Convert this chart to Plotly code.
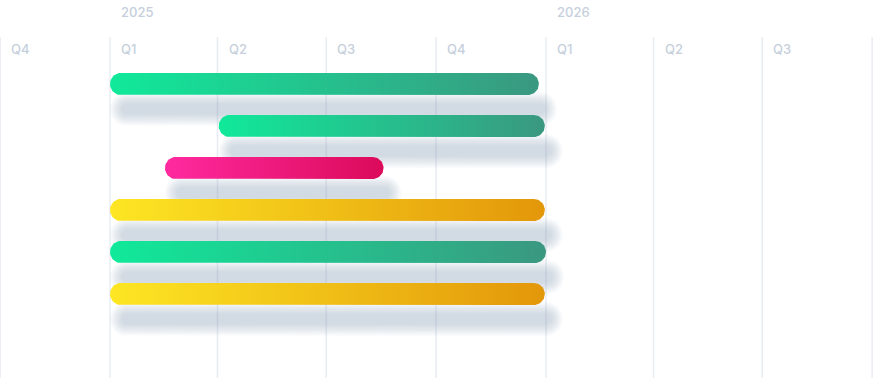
import math
from datetime import datetime, timedelta
import plotly.graph_objects as go

# ---------------- data ----------------
tasks = ["Task 1", "Task 2", "Task 3", "Task 4", "Task 5", "Task 6"]
starts = ["2025-01-01", "2025-04-02", "2025-02-16", "2025-01-01", "2025-01-01", "2025-01-01"]
ends = ["2025-12-26", "2025-12-31", "2025-08-18", "2025-12-31", "2026-01-01", "2025-12-31"]
groups = ["green", "green", "pink", "yellow", "green", "yellow"]

gradients = {
    "green": ("#10e99a", "#3a9880"),
    "pink": ("#ff2a9f", "#dc0a5a"),
    "yellow": ("#fde623", "#e3970a"),
}

quarter_starts = ["2024-10-01", "2025-01-01", "2025-04-01", "2025-07-01",
                  "2025-10-01", "2026-01-01", "2026-04-01", "2026-07-01", "2026-10-01"]
quarter_labels = ["Q4", "Q1", "Q2", "Q3", "Q4", "Q1", "Q2", "Q3"]
year_labels = ["2025", "2026"]
year_starts = ["2025-01-01", "2026-01-01"]

# ---------------- layout constants ----------------
W, H = 874, 378
X_START = datetime(2024, 9, 30, 22)
X_END = datetime(2026, 10, 2, 14)
ROW_PX = 42.0
Y_RANGE = [7, -2]  # reversed: row 0 at 84px, rows 42px apart
MS_PER_PX = (X_END - X_START).total_seconds() * 1000 / W

TEXT_COLOR = "#c6cfdc"
GRID_COLOR = "#e8ecf2"


def d(s):
    return datetime.strptime(s, "%Y-%m-%d")


def px_dx(px):
    return timedelta(milliseconds=px * MS_PER_PX)


def pill(xs, xe, yc, half_px, n=24):
    """Rounded (pill) polygon between datetimes xs..xe, centered at row yc."""
    r = half_px
    lc = xs + px_dx(r)
    rc = xe - px_dx(r)
    xsd, ysd = [], []
    for i in range(n + 1):
        a = -math.pi / 2 + math.pi * i / n
        xsd.append(rc + px_dx(r * math.cos(a)))
        ysd.append(yc + r * math.sin(a) / ROW_PX)
    for i in range(n + 1):
        a = math.pi / 2 + math.pi * i / n
        xsd.append(lc + px_dx(r * math.cos(a)))
        ysd.append(yc + r * math.sin(a) / ROW_PX)
    xsd.append(xsd[0])
    ysd.append(ysd[0])
    return [x.isoformat() for x in xsd], ysd


fig = go.Figure()

# soft shadows (stacked translucent pills)
N_LAYERS = 10
for i, (s, e) in enumerate(zip(starts, ends)):
    xs = d(s) + px_dx(12)
    xe = d(e) + px_dx(6)
    yc = i + 25 / ROW_PX
    for k in range(N_LAYERS):
        spread = 0.5 + k * 1.3
        px_, py_ = pill(xs - px_dx(spread), xe + px_dx(spread), yc, 5 + spread)
        fig.add_trace(go.Scatter(
            x=px_, y=py_, mode="lines", fill="toself",
            fillcolor="rgba(140,158,188,0.045)", line=dict(width=0),
            hoverinfo="skip", showlegend=False))

# bars
for i, (t, s, e, g) in enumerate(zip(tasks, starts, ends, groups)):
    c0, c1 = gradients[g]
    bx, by = pill(d(s), d(e), i, 11)
    fig.add_trace(go.Scatter(
        x=bx, y=by, mode="lines", fill="toself", name=t,
        fillgradient=dict(type="horizontal", colorscale=[[0, c0], [1, c1]]),
        line=dict(width=0), hoverinfo="skip", showlegend=False))

# grid lines
shapes = []
grid_top = (37 - 84) / ROW_PX
for q in quarter_starts:
    shapes.append(dict(type="line", xref="x", yref="y", x0=q, x1=q,
                       y0=grid_top, y1=Y_RANGE[0],
                       line=dict(color=GRID_COLOR, width=1.5), layer="below"))

annotations = []
font = dict(family="Inter, Roboto, sans-serif", size=13, color=TEXT_COLOR, weight=500)
for q, lab in zip(quarter_starts, quarter_labels):
    annotations.append(dict(x=q, y=(49 - 84) / ROW_PX, xref="x", yref="y", text=lab,
                            showarrow=False, xanchor="left", yanchor="middle",
                            xshift=9, font=font))
for ys, lab in zip(year_starts, year_labels):
    annotations.append(dict(x=ys, y=(12 - 84) / ROW_PX, xref="x", yref="y", text=lab,
                            showarrow=False, xanchor="left", yanchor="middle",
                            xshift=9, font=font))

fig.update_layout(
    width=W, height=H,
    margin=dict(l=0, r=0, t=0, b=0),
    paper_bgcolor="white", plot_bgcolor="white",
    xaxis=dict(type="date", range=[X_START.isoformat(), X_END.isoformat()],
               showgrid=False, zeroline=False, showticklabels=False, visible=False),
    yaxis=dict(range=Y_RANGE, showgrid=False, zeroline=False,
               showticklabels=False, visible=False),
    shapes=shapes, annotations=annotations,
)

fig.write_html("out.html", config={"displayModeBar": False, "staticPlot": True},
               post_script="document.body.style.margin='0';")
